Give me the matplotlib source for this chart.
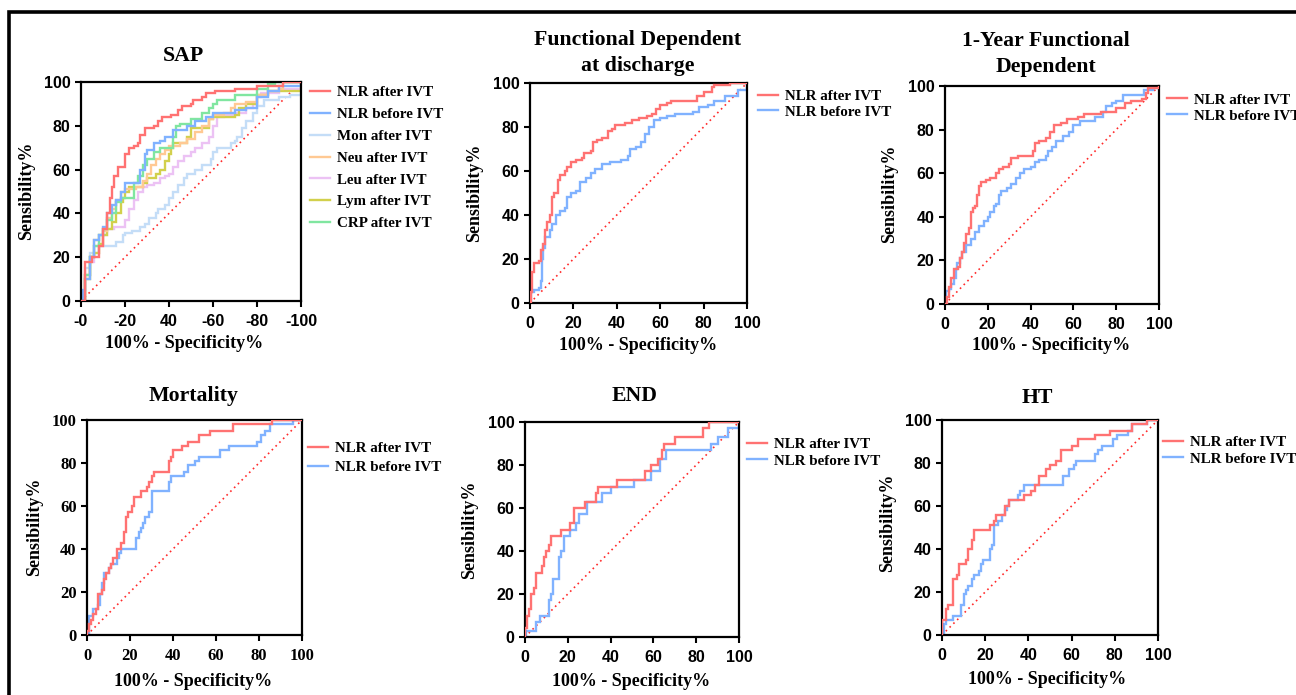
import matplotlib
matplotlib.use("Agg")
import matplotlib.pyplot as plt
from matplotlib.lines import Line2D
from matplotlib.font_manager import FontProperties

# ---------------- data ----------------
# SAP
sap_nlr_after_x = [0,2,5,8,10,12,13,14,15,17,20,22,24,26,27,29,33,35,37,41,44,46,50,51,55,57,61,70,80,92,100]
sap_nlr_after_y = [0,18,20,25,33,40,47,52,57,61,67,70,71,72,76,79,80,82,84,85,87,89,90,92,93,95,96,97,98,100,100]
sap_nlr_before_x = [0,1,2,4,6,8,10,12,14,16,18,20,25,27,29,30,33,36,38,42,48,52,57,60,66,70,75,80,85,90,100]
sap_nlr_before_y = [0,5,10,20,28,30,34,40,44,46,50,54,54,60,67,69,72,73,75,78,80,82,84,86,86,87,88,93,96,98,100]
sap_mon_x = [0,2,4,6,15,16,19,20,23,27,29,31,34,35,38,40,42,44,47,48,52,55,59,60,62,68,70,71,73,75,78,80,83,90,95,100]
sap_mon_y = [0,15,22,25,25,27,30,31,32,34,35,38,40,42,44,47,50,53,56,58,60,62,65,68,70,72,73,75,79,82,86,89,92,93,94,100]
sap_neu_x = [0,2,4,6,8,10,12,14,16,18,20,25,28,30,32,34,36,38,40,45,48,52,55,58,60,65,68,70,75,80,85,90,92,100]
sap_neu_y = [0,12,20,28,30,32,38,42,46,50,51,52,55,58,62,65,67,69,71,72,74,77,80,83,85,86,88,90,91,94,96,97,100,100]
sap_leu_x = [0,2,4,6,8,10,12,15,18,20,22,24,26,28,30,33,36,38,40,42,44,47,50,52,55,58,60,62,65,70,75,78,80,82,90,100]
sap_leu_y = [0,12,18,22,25,30,33,34,34,37,42,46,50,52,53,54,56,57,58,61,64,66,68,70,72,75,80,84,85,86,88,90,93,95,97,100]
sap_lym_x = [0,2,4,6,8,10,12,14,16,18,19,20,22,25,28,30,34,36,38,40,41,42,45,48,50,57,58,60,70,72,75,80,85,100]
sap_lym_y = [0,10,20,22,26,30,33,36,40,45,47,50,52,52,54,56,58,60,64,67,70,72,72,75,79,79,83,84,85,88,90,94,96,100]
sap_crp_x = [0,2,4,6,8,10,12,14,16,18,23,24,26,28,30,33,36,40,42,43,45,50,55,58,60,62,70,80,85,88,100]
sap_crp_y = [0,12,20,25,30,33,37,40,45,47,47,54,57,62,65,68,70,70,75,80,81,83,86,88,90,92,94,97,99,100,100]

# Functional dependent at discharge
fd_after_x = [0,0.5,1,2,4,5,6,7,8,9,10,11,13,14,16,17,19,21,24,25,28,29,31,33,36,38,39,42,44,47,50,54,56,58,60,63,65,75,77,80,84,85,92,100]
fd_after_y = [0,5,14,18,19,24,27,33,37,40,48,50,56,58,60,62,64,65,66,68,69,73,74,75,78,79,81,81,82,83,84,85,86,88,90,91,92,92,94,96,98,99,100,100]
fd_before_x = [0,0.5,2,4,5,5.5,6,7,9,10,12,14,16,17,19,21,23,26,28,30,33,37,42,45,46,49,51,53,55,57,60,63,67,75,78,82,85,90,95,96,100]
fd_before_y = [0,5,6,7,10,20,25,30,33,36,40,42,43,48,50,51,55,57,59,61,63,64,65,67,70,71,73,77,80,83,84,85,86,87,89,90,92,94,94,97,100]

# 1-year functional dependent
fy_after_x = [0,1,2,3,4,6,7,8,9,10,11,12,13,14,15,16,17,19,21,24,25,27,30,31,34,39,41,42,44,47,49,51,54,57,62,65,72,73,78,80,84,87,92,94,95,100]
fy_after_y = [0,3,8,12,16,17,21,24,28,32,35,42,44,45,50,54,56,57,58,60,62,63,64,67,68,68,70,74,75,76,79,82,83,85,86,87,87,88,88,90,92,93,94,97,99,100]
fy_before_x = [0,0.3,2,3,4,5,5.5,7,8,10,12,14,16,18,20,21,23,24,25,26,29,31,33,35,37,40,42,44,47,48,50,52,55,58,60,63,67,70,74,75,78,80,83,90,93,97,100]
fy_before_y = [0,6,7,9,12,16,19,21,24,27,30,33,36,38,40,42,45,46,50,52,53,55,58,60,62,63,65,66,68,70,72,75,77,79,82,84,84,86,88,91,92,93,96,96,98,99,100]

# Mortality
mo_after_x = [0,0,1,2,3,4,5,7,8,9,10,11,12,14,16,17,18,19,21,22,25,28,29,30,31,38,39,40,44,47,52,57,68,86,100]
mo_after_y = [0,2,5,7,10,12,19,21,26,29,31,33,36,40,43,48,55,57,60,64,67,69,71,74,76,81,83,86,88,90,93,95,98,100,100]
mo_before_x = [0,1,3,5,6,7,8,10,11,14,15,16,23,24,25,26,27,29,30,38,39,45,47,50,52,62,66,79,81,83,85,96,100]
mo_before_y = [0,9,12,14,19,24,29,31,33,36,38,40,45,48,50,52,55,57,67,71,74,76,79,81,83,86,88,90,93,95,98,100,100]

# END
end_after_x = [0,0,1,2,3,4,5,8,9,10,11,12,17,21,23,28,33,34,43,56,59,62,64,65,70,83,86,100]
end_after_y = [0,4,10,13,20,23,30,33,37,40,43,47,50,53,60,63,67,70,73,77,80,83,87,90,93,97,100,100]
end_before_x = [0,0.5,5,7,11,12,13,16,17,18,21,24,25,29,36,40,51,59,63,66,87,90,95,100]
end_before_y = [0,3,7,10,17,20,27,37,40,47,50,53,57,63,67,70,73,77,83,87,90,93,97,100]

# HT
ht_after_x = [0,0,2,3,5,7,8,11,12,14,15,22,24,25,29,31,38,41,43,45,48,50,53,55,60,63,71,78,88,95,100]
ht_after_y = [0,7,12,14,26,28,33,35,40,44,49,51,53,56,60,63,65,67,70,74,77,79,81,86,88,91,93,95,98,100,100]
ht_before_x = [0,1,2,5,9,10,11,12,14,15,17,18,19,22,23,24,26,28,29,30,31,35,36,38,56,59,61,62,71,72,74,79,81,86,88,95,100]
ht_before_y = [0,5,7,9,14,19,21,23,26,28,30,33,35,40,42,51,53,56,58,60,63,65,67,70,74,77,79,81,84,86,88,91,93,95,98,100,100]

tick_values = [0, 20, 40, 60, 80, 100]
sap_xtick_labels = ["-0", "-20", "40", "-60", "-80", "-100"]
default_tick_labels = ["0", "20", "40", "60", "80", "100"]

C_RED = "#ff7272"
C_BLUE = "#80b2ff"
C_MON = "#c4ddf7"
C_NEU = "#ffc993"
C_LEU = "#ecc2f4"
C_LYM = "#d2d04c"
C_CRP = "#80e6a0"

W, H = 1296, 695
fig = plt.figure(figsize=(W / 100, H / 100), dpi=100)
fig.patch.set_facecolor("white")

SERIF = "Liberation Serif"
SANS = "Liberation Sans"
leg_font = FontProperties(family=SERIF, weight="bold", size=10.8)
TITLE_SIZE = 15.7
LABEL_SIZE = 13


def px_axes(l, t, r, b):
    return fig.add_axes([l / W, 1 - b / H, (r - l) / W, (b - t) / H])


def ftext(x, y, s, **kw):
    fig.text(x / W, 1 - y / H, s, ha="center", va="center", **kw)


def style_axes(ax, xlabels, tick_family=SANS, tick_size=11.5):
    ax.set_xlim(0, 100)
    ax.set_ylim(0, 100)
    ax.set_xticks(tick_values)
    ax.set_yticks(tick_values)
    ax.set_xticklabels(xlabels, fontfamily=tick_family, fontweight="bold", fontsize=tick_size)
    ax.set_yticklabels(default_tick_labels, fontfamily=tick_family, fontweight="bold", fontsize=tick_size)
    for s in ax.spines.values():
        s.set_linewidth(1.6)
        s.set_color("black")
    ax.tick_params(direction="out", length=4, width=1.5, pad=3.5, colors="black")
    ax.tick_params(axis="x", pad=5.5)
    ax.plot([0, 100], [0, 100], color="#ff2a2a", lw=1.2, ls=(0, (1, 2.2)), zorder=1)


def curve(ax, x, y, color, label, z=3):
    ln, = ax.plot(x, y, color=color, lw=1.7, drawstyle="steps-post", label=label,
                  zorder=z, solid_joinstyle="miter")
    return ln


def legend(ax, handles, x, y_top, spacing):
    ax.legend(handles=handles, loc="upper left", bbox_to_anchor=(x / W, 1 - y_top / H),
              bbox_transform=fig.transFigure, frameon=False, borderpad=0, borderaxespad=0,
              handlelength=1.33, handletextpad=0.47, labelspacing=spacing, prop=leg_font)


# ---------- SAP ----------
ax = px_axes(81, 82, 301, 301)
style_axes(ax, sap_xtick_labels)
h_mon = curve(ax, sap_mon_x, sap_mon_y, C_MON, "Mon after IVT", 2)
h_leu = curve(ax, sap_leu_x, sap_leu_y, C_LEU, "Leu after IVT", 2.1)
h_lym = curve(ax, sap_lym_x, sap_lym_y, C_LYM, "Lym after IVT", 2.2)
h_neu = curve(ax, sap_neu_x, sap_neu_y, C_NEU, "Neu after IVT", 2.3)
h_crp = curve(ax, sap_crp_x, sap_crp_y, C_CRP, "CRP after IVT", 2.4)
h_b = curve(ax, sap_nlr_before_x, sap_nlr_before_y, C_BLUE, "NLR before IVT", 2.5)
h_a = curve(ax, sap_nlr_after_x, sap_nlr_after_y, C_RED, "NLR after IVT", 2.6)
legend(ax, [h_a, h_b, h_mon, h_neu, h_leu, h_lym, h_crp], 310, 86, 0.55)
ftext(183, 56, "SAP", fontfamily=SERIF, fontweight="bold", fontsize=TITLE_SIZE)
ftext(184, 343, "100% - Specificity%", fontfamily=SERIF, fontweight="bold", fontsize=LABEL_SIZE)
ftext(27, 191, "Sensibility%", fontfamily=SERIF, fontweight="bold", fontsize=LABEL_SIZE, rotation=90)

# ---------- Functional Dependent at discharge ----------
ax = px_axes(530, 83, 747, 303)
style_axes(ax, default_tick_labels)
h_b = curve(ax, fd_before_x, fd_before_y, C_BLUE, "NLR before IVT", 2.5)
h_a = curve(ax, fd_after_x, fd_after_y, C_RED, "NLR after IVT", 2.6)
legend(ax, [h_a, h_b], 758, 90, 0.1)
ftext(638, 53, "Functional Dependent\nat discharge", fontfamily=SERIF, fontweight="bold",
      fontsize=TITLE_SIZE, linespacing=1.42)
ftext(638, 345, "100% - Specificity%", fontfamily=SERIF, fontweight="bold", fontsize=LABEL_SIZE)
ftext(475, 193, "Sensibility%", fontfamily=SERIF, fontweight="bold", fontsize=LABEL_SIZE, rotation=90)

# ---------- 1-Year Functional Dependent ----------
ax = px_axes(945, 86, 1159, 304)
style_axes(ax, default_tick_labels)
h_b = curve(ax, fy_before_x, fy_before_y, C_BLUE, "NLR before IVT", 2.5)
h_a = curve(ax, fy_after_x, fy_after_y, C_RED, "NLR after IVT", 2.6)
legend(ax, [h_a, h_b], 1167, 93, 0.17)
ftext(1046, 54, "1-Year Functional\nDependent", fontfamily=SERIF, fontweight="bold",
      fontsize=TITLE_SIZE, linespacing=1.42)
ftext(1051, 345, "100% - Specificity%", fontfamily=SERIF, fontweight="bold", fontsize=LABEL_SIZE)
ftext(890, 194, "Sensibility%", fontfamily=SERIF, fontweight="bold", fontsize=LABEL_SIZE, rotation=90)

# ---------- Mortality ----------
ax = px_axes(87, 420, 302, 635)
style_axes(ax, default_tick_labels, tick_family=SERIF, tick_size=12)
h_b = curve(ax, mo_before_x, mo_before_y, C_BLUE, "NLR before IVT", 2.5)
h_a = curve(ax, mo_after_x, mo_after_y, C_RED, "NLR after IVT", 2.6)
legend(ax, [h_a, h_b], 308, 442, 0.35)
ftext(194, 396, "Mortality", fontfamily=SERIF, fontweight="bold", fontsize=TITLE_SIZE)
ftext(193, 682, "100% - Specificity%", fontfamily=SERIF, fontweight="bold", fontsize=LABEL_SIZE)
ftext(35, 527, "Sensibility%", fontfamily=SERIF, fontweight="bold", fontsize=LABEL_SIZE, rotation=90)

# ---------- END ----------
ax = px_axes(525, 422, 739, 637)
style_axes(ax, default_tick_labels)
h_b = curve(ax, end_before_x, end_before_y, C_BLUE, "NLR before IVT", 2.5)
h_a = curve(ax, end_after_x, end_after_y, C_RED, "NLR after IVT", 2.6)
legend(ax, [h_a, h_b], 747, 438, 0.18)
ftext(635, 396, "END", fontfamily=SERIF, fontweight="bold", fontsize=TITLE_SIZE)
ftext(631, 682, "100% - Specificity%", fontfamily=SERIF, fontweight="bold", fontsize=LABEL_SIZE)
ftext(470, 530, "Sensibility%", fontfamily=SERIF, fontweight="bold", fontsize=LABEL_SIZE, rotation=90)

# ---------- HT ----------
ax = px_axes(942, 420, 1158, 635)
style_axes(ax, default_tick_labels)
h_b = curve(ax, ht_before_x, ht_before_y, C_BLUE, "NLR before IVT", 2.5)
h_a = curve(ax, ht_after_x, ht_after_y, C_RED, "NLR after IVT", 2.6)
legend(ax, [h_a, h_b], 1163, 436, 0.17)
ftext(1037, 398, "HT", fontfamily=SERIF, fontweight="bold", fontsize=TITLE_SIZE)
ftext(1047, 680, "100% - Specificity%", fontfamily=SERIF, fontweight="bold", fontsize=LABEL_SIZE)
ftext(888, 523, "Sensibility%", fontfamily=SERIF, fontweight="bold", fontsize=LABEL_SIZE, rotation=90)

# ---------- outer frame ----------
fig.add_artist(Line2D([9 / W, 9 / W, 1.0], [0.0, 1 - 12 / H, 1 - 12 / H],
                      transform=fig.transFigure, color="black", lw=2.6,
                      solid_joinstyle="miter"))

fig.savefig("out.png", dpi=100, facecolor="white")
